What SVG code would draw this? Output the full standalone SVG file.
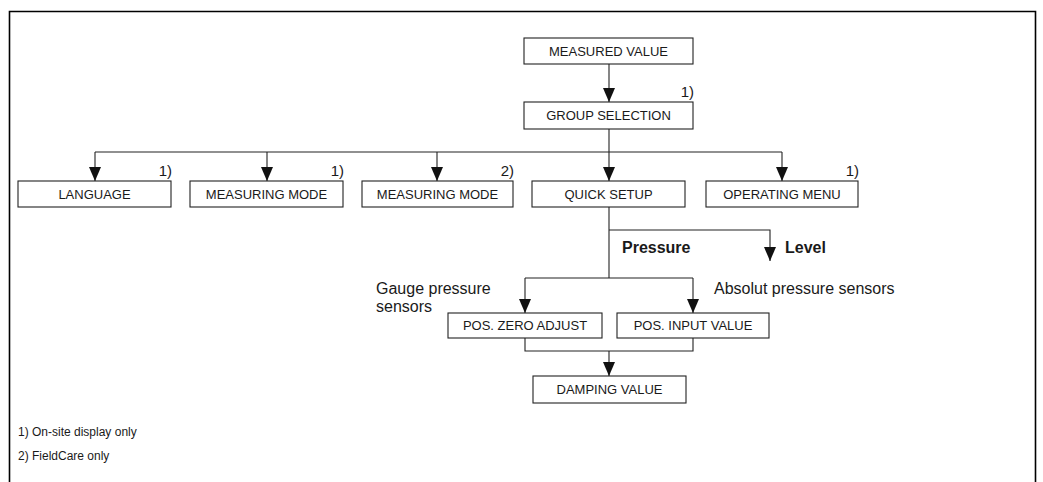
<svg xmlns="http://www.w3.org/2000/svg" width="1043" height="482" viewBox="0 0 1043 482">
<defs>
<style>
.box{fill:#fff;stroke:#222;stroke-width:1.1}
.bt{font-family:"Liberation Sans",Arial,sans-serif;font-size:13px;fill:#1a1a1a;text-anchor:middle}
.lb{font-family:"Liberation Sans",Arial,sans-serif;font-size:16px;fill:#1a1a1a}
.lbb{font-family:"Liberation Sans",Arial,sans-serif;font-size:16px;font-weight:bold;fill:#1a1a1a}
.ft{font-family:"Liberation Sans",Arial,sans-serif;font-size:12px;fill:#1a1a1a}
.fn{font-family:"Liberation Sans",Arial,sans-serif;font-size:15px;fill:#1a1a1a;text-anchor:end}
.ln{fill:none;stroke:#222;stroke-width:1.1}
</style>
<marker id="ah" viewBox="0 0 14 12" refX="14" refY="6" markerWidth="14" markerHeight="12" markerUnits="userSpaceOnUse" orient="auto">
<path d="M0,0 L14,6 L0,12 Z" fill="#111"/>
</marker>
</defs>
<rect width="1043" height="482" fill="#fff"/>
<path d="M9.5,482 V11.5 H1035.5 V482" fill="none" stroke="#000" stroke-width="1.6"/>

<g id="connectors">
<path class="ln" d="M609,64 V102" marker-end="url(#ah)"/>
<path class="ln" d="M609,129 V181" marker-end="url(#ah)"/>
<path class="ln" d="M95,152 H782"/>
<path class="ln" d="M95,152 V181" marker-end="url(#ah)"/>
<path class="ln" d="M267,152 V181" marker-end="url(#ah)"/>
<path class="ln" d="M437,152 V181" marker-end="url(#ah)"/>
<path class="ln" d="M782,152 V181" marker-end="url(#ah)"/>
<path class="ln" d="M609,207 V278"/>
<path class="ln" d="M609,230 H770 V261" marker-end="url(#ah)"/>
<path class="ln" d="M525,278 H693"/>
<path class="ln" d="M525,278 V313" marker-end="url(#ah)"/>
<path class="ln" d="M693,278 V313" marker-end="url(#ah)"/>
<path class="ln" d="M525,338 V351 H693 V338"/>
<path class="ln" d="M609,351 V376" marker-end="url(#ah)"/>
</g>

<g id="measured-value">
<rect class="box" x="524" y="38" width="169" height="26"/>
<text class="bt" x="608.5" y="56">MEASURED VALUE</text>
</g>
<g id="group-selection">
<rect class="box" x="524" y="102" width="169" height="27"/>
<text class="bt" x="608.5" y="120">GROUP SELECTION</text>
<text class="fn" x="694" y="97">1)</text>
</g>
<g id="language">
<rect class="box" x="18" y="181" width="153" height="26"/>
<text class="bt" x="94.5" y="199">LANGUAGE</text>
<text class="fn" x="172" y="176">1)</text>
</g>
<g id="measuring-mode-1">
<rect class="box" x="190" y="181" width="153" height="26"/>
<text class="bt" x="266.5" y="199">MEASURING MODE</text>
<text class="fn" x="344" y="176">1)</text>
</g>
<g id="measuring-mode-2">
<rect class="box" x="362" y="181" width="151" height="26"/>
<text class="bt" x="437.5" y="199">MEASURING MODE</text>
<text class="fn" x="514" y="176">2)</text>
</g>
<g id="quick-setup">
<rect class="box" x="532" y="181" width="153" height="26"/>
<text class="bt" x="608.5" y="199">QUICK SETUP</text>
</g>
<g id="operating-menu">
<rect class="box" x="706" y="181" width="152" height="26"/>
<text class="bt" x="782" y="199">OPERATING MENU</text>
<text class="fn" x="859" y="176">1)</text>
</g>
<g id="labels">
<text class="lbb" x="622" y="253">Pressure</text>
<text class="lbb" x="785" y="253">Level</text>
<text class="lb" x="376" y="294">Gauge pressure</text>
<text class="lb" x="376" y="312">sensors</text>
<text class="lb" x="714" y="294">Absolut pressure sensors</text>
</g>
<g id="pos-zero-adjust">
<rect class="box" x="448" y="313" width="154" height="25"/>
<text class="bt" x="525" y="330">POS. ZERO ADJUST</text>
</g>
<g id="pos-input-value">
<rect class="box" x="617" y="313" width="152" height="25"/>
<text class="bt" x="693" y="330">POS. INPUT VALUE</text>
</g>
<g id="damping-value">
<rect class="box" x="533" y="376" width="153" height="27"/>
<text class="bt" x="609.5" y="394">DAMPING VALUE</text>
</g>
<g id="footnotes">
<text class="ft" x="18" y="436">1) On-site display only</text>
<text class="ft" x="18" y="460">2) FieldCare only</text>
</g>
</svg>
